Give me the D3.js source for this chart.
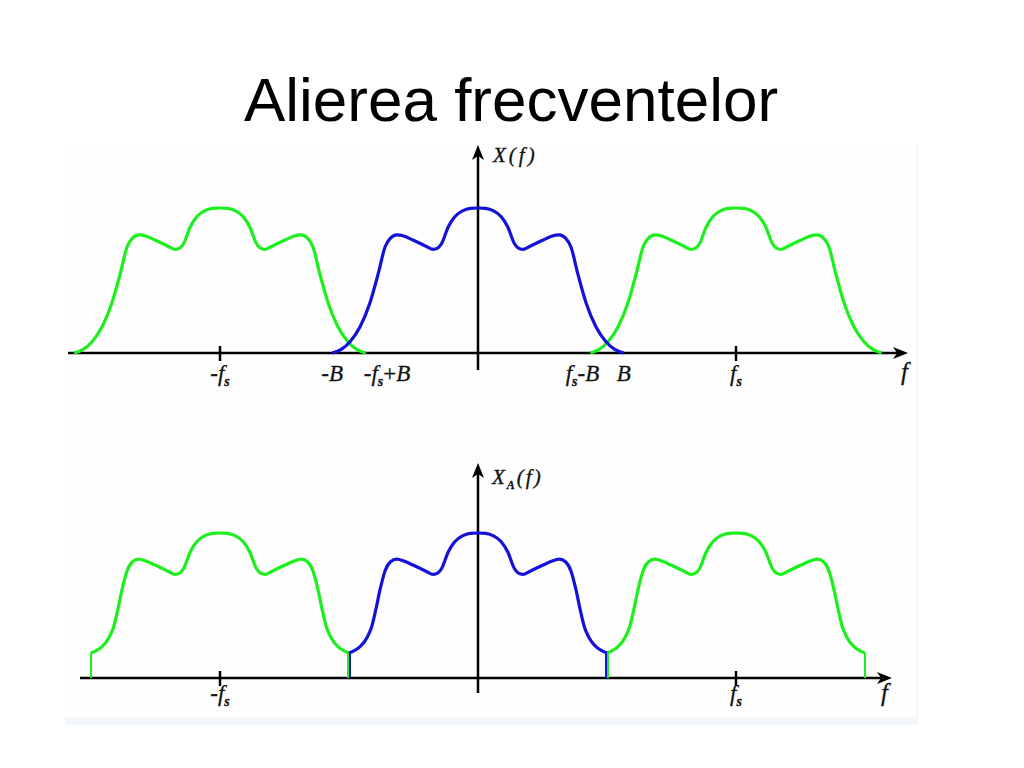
<!DOCTYPE html>
<html>
<head>
<meta charset="utf-8">
<script src="https://cdn.jsdelivr.net/npm/d3@7"></script>
<style>
  html, body { margin: 0; padding: 0; background: #ffffff; }
  svg { display: block; }
</style>
</head>
<body>
<svg id="chart" width="1024" height="768"></svg>
<script>
// ---------------- DATA ----------------
const titleText = "Alierea frecventelor";

// Baseband spectrum X(f): frequency offsets (in units of fs) and normalised magnitudes
const spectrumF = [-0.565,-0.53,-0.496,-0.457,-0.419,-0.386,-0.36,-0.34,-0.315,-0.285,-0.252,-0.2,-0.174,-0.155,-0.141,-0.115,-0.09,-0.06,-0.03,0,
                    0.03,0.06,0.09,0.115,0.141,0.155,0.174,0.2,0.252,0.285,0.315,0.34,0.36,0.386,0.419,0.457,0.496,0.53,0.565];
const spectrumX = [0,0.025,0.078,0.181,0.345,0.552,0.733,0.79,0.814,0.805,0.779,0.735,0.715,0.725,0.755,0.871,0.94,0.98,0.997,1,
                    0.997,0.98,0.94,0.871,0.755,0.725,0.715,0.735,0.779,0.805,0.814,0.79,0.733,0.552,0.345,0.181,0.078,0.025,0];

// Aliased spectrum X_A(f) over one period [-fs/2, fs/2]
const aliasF = [-0.5,-0.478,-0.457,-0.43,-0.412,-0.395,-0.38,-0.36,-0.34,-0.315,-0.285,-0.252,-0.2,-0.174,-0.155,-0.141,-0.115,-0.09,-0.06,-0.03,0,
                 0.03,0.06,0.09,0.115,0.141,0.155,0.174,0.2,0.252,0.285,0.315,0.34,0.36,0.38,0.395,0.412,0.43,0.457,0.478,0.5];
const aliasX = [0.172,0.19,0.216,0.28,0.354,0.48,0.607,0.74,0.8,0.82,0.805,0.779,0.735,0.715,0.725,0.755,0.871,0.94,0.98,0.997,1,
                 0.997,0.98,0.94,0.871,0.755,0.725,0.715,0.735,0.779,0.805,0.82,0.8,0.74,0.607,0.48,0.354,0.28,0.216,0.19,0.172];

// Spectral copies (centre frequencies, in fs units)
const baseCentre = [0];
const imageCentres = [-1, 1];

// Bandwidth B (in fs units)
const B = 0.565;

// Tick marks and labels
const tickValues = [-1, 1];
const topLabelValues = [-1, -B, -1 + B, 1 - B, B, 1];
const topLabelTexts  = ["-f_s", "-B", "-f_s+B", "f_s-B", "B", "f_s"];
const botLabelValues = [-1, 1];
const botLabelTexts  = ["-f_s", "f_s"];
const axisNames = ["X(f)", "X_A(f)"];
const freqName = "f";

// ---------------- DRAWING ----------------
const svg = d3.select("#chart");
const GREEN = "#1cf01c", BLUE = "#1212d8";
const SERIF = "\"Liberation Serif\", \"Times New Roman\", serif";

// picture panel background
svg.append("rect").attr("x", 65).attr("y", 143).attr("width", 853).attr("height", 582).attr("fill", "#fefefe");
svg.append("line").attr("x1", 917.5).attr("x2", 917.5).attr("y1", 145).attr("y2", 725).attr("stroke", "#f1f1f1");
svg.append("rect").attr("x", 65).attr("y", 717).attr("width", 853).attr("height", 8).attr("fill", "#f2f7fc");

// title
svg.append("text").attr("x", 511).attr("y", 121).attr("text-anchor", "middle")
  .style("font-family", "\"Liberation Sans\", Arial, sans-serif").attr("font-size", 62)
  .attr("fill", "#000").text(titleText);

const x = d3.scaleLinear().domain([-1, 1]).range([220, 736]);
const yTop = d3.scaleLinear().domain([0, 1]).range([353, 208]);
const yBot = d3.scaleLinear().domain([0, 1]).range([678, 533]);

function mathText(px, py, size) {
  return svg.append("text").attr("x", px).attr("y", py)
    .style("font-family", SERIF).style("font-size", size + "px")
    .attr("fill", "#111").attr("stroke", "#111").attr("stroke-width", 0.3);
}

function writeLabel(sel, str, subSize) {
  const tokens = str.match(/_[A-Za-z]|[A-Za-z()]|[-+]/g);
  let pendingShift = 0;
  tokens.forEach(t => {
    if (t.startsWith("_")) {
      sel.append("tspan").attr("dy", 5).style("font-size", subSize + "px").style("font-style", "italic")
        .style("font-weight", "bold").text(t.slice(1));
      pendingShift = -5;
    } else {
      const ts = sel.append("tspan").text(t);
      if (pendingShift) { ts.attr("dy", pendingShift); pendingShift = 0; }
      ts.style("font-style", t === "-" || t === "+" ? "normal" : "italic");
    }
  });
}

function drawAxes(y0, xStart, xEnd, yAxisTop, yAxisBottom) {
  const g = svg.append("g");
  g.append("line").attr("x1", xStart).attr("x2", xEnd - 8).attr("y1", y0).attr("y2", y0)
    .attr("stroke", "#000").attr("stroke-width", 2.5);
  g.append("path").attr("d", `M${xEnd},${y0} L${xEnd - 15},${y0 - 6} L${xEnd - 11},${y0} L${xEnd - 15},${y0 + 6} Z`).attr("fill", "#000");
  const x0 = x(0);
  g.append("line").attr("x1", x0).attr("x2", x0).attr("y1", yAxisBottom).attr("y2", yAxisTop + 8)
    .attr("stroke", "#000").attr("stroke-width", 2.5);
  g.append("path").attr("d", `M${x0},${yAxisTop} L${x0 - 6},${yAxisTop + 15} L${x0},${yAxisTop + 11} L${x0 + 6},${yAxisTop + 15} Z`).attr("fill", "#000");
  g.selectAll("line.tick").data(tickValues).join("line").attr("class", "tick")
    .attr("x1", d => x(d)).attr("x2", d => x(d)).attr("y1", y0 - 7).attr("y2", y0 + 8)
    .attr("stroke", "#000").attr("stroke-width", 2.5);
  return g;
}

const line = (yScale) => d3.line().x(d => x(d[0])).y(d => yScale(d[1])).curve(d3.curveMonotoneX);

// ---- top panel ----
drawAxes(353, 68, 908, 145, 370);
imageCentres.forEach(c => {
  svg.append("path").datum(spectrumF.map((f, i) => [c + f, spectrumX[i]]))
    .attr("d", line(yTop)).attr("fill", "none").attr("stroke", GREEN).attr("stroke-width", 3.2);
});
baseCentre.forEach(c => {
  svg.append("path").datum(spectrumF.map((f, i) => [c + f, spectrumX[i]]))
    .attr("d", line(yTop)).attr("fill", "none").attr("stroke", BLUE).attr("stroke-width", 3.2);
});

const labelAnchor = { "-f_s": "middle", "-B": "middle", "-f_s+B": "start", "f_s-B": "end", "B": "middle", "f_s": "middle" };
const labelNudge = { "-f_s+B": -2, "f_s-B": 9 };
topLabelValues.forEach((v, i) => {
  const t = mathText(x(v) + (labelNudge[topLabelTexts[i]] || 0), 381, 23)
    .attr("text-anchor", labelAnchor[topLabelTexts[i]]);
  writeLabel(t, topLabelTexts[i], 14);
});
mathText(901, 380, 25).style("font-style", "italic").text(freqName);
writeLabel(mathText(493, 162, 21).attr("letter-spacing", 3), axisNames[0], 13);

// ---- bottom panel ----
drawAxes(678, 80, 892, 463, 693);
const aliasPts = (c) => aliasF.map((f, i) => [c + f, aliasX[i]]);
imageCentres.forEach(c => {
  svg.append("path").datum(aliasPts(c)).attr("d", line(yBot)).attr("fill", "none")
    .attr("stroke", GREEN).attr("stroke-width", 3.2);
  [c - 0.5, c + 0.5].forEach((e, k) => {
    const off = (e === -0.5) ? -1 : (e === 0.5 ? 1 : 0);
    svg.append("line").attr("x1", x(e) + off).attr("x2", x(e) + off)
      .attr("y1", yBot(0)).attr("y2", yBot(aliasX[k === 0 ? 0 : aliasX.length - 1]))
      .attr("stroke", GREEN).attr("stroke-width", 2);
  });
});
baseCentre.forEach(c => {
  svg.append("path").datum(aliasPts(c)).attr("d", line(yBot)).attr("fill", "none")
    .attr("stroke", BLUE).attr("stroke-width", 3.2);
  [c - 0.5, c + 0.5].forEach((e, k) => {
    const off = k === 0 ? 1 : -1;
    svg.append("line").attr("x1", x(e) + off).attr("x2", x(e) + off)
      .attr("y1", yBot(0)).attr("y2", yBot(aliasX[k === 0 ? 0 : aliasX.length - 1]))
      .attr("stroke", BLUE).attr("stroke-width", 2);
  });
});
botLabelValues.forEach((v, i) => {
  const t = mathText(x(v), 701, 23).attr("text-anchor", "middle");
  writeLabel(t, botLabelTexts[i], 14);
});
mathText(881, 701, 25).style("font-style", "italic").text(freqName);
writeLabel(mathText(492, 484, 21).attr("letter-spacing", 2), axisNames[1], 12);
</script>
</body>
</html>
